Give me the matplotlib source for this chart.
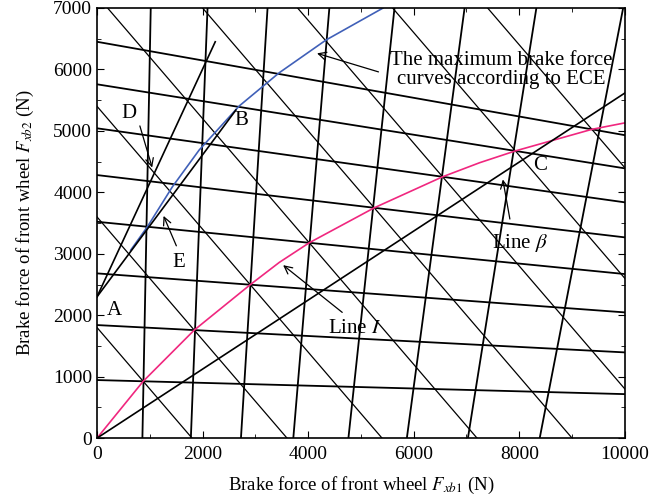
import matplotlib
matplotlib.use("Agg")
import matplotlib.pyplot as plt
import numpy as np

plt.rcParams['font.family'] = ['Liberation Serif', 'DejaVu Serif']
plt.rcParams['mathtext.fontset'] = 'stix'

# near-horizontal lines: y at x=0 and at x=10000
horiz_left = [945, 1840, 2681, 3521, 4281, 5042, 5758, 6450]
horiz_right = [716, 1395, 2046, 2670, 3267, 3837, 4390, 4930]
# near-vertical lines: x at y=0 and at y=7000
vert_bottom = [860, 1778, 2727, 3719, 4763, 5870, 7027, 8387]
vert_top = [1018, 2094, 3231, 4402, 5636, 6964, 8324, 9968]
# -45 degree lines: Fxb1 + Fxb2 = const
diag_sum = [1800, 3600, 5400, 7200, 9000, 10800, 12600, 14400]

# Line I (pink)
i_x = [0, 875, 1842, 2903, 3454, 4021, 5252, 6547, 7249, 7926, 9375, 10000]
i_y = [0, 925, 1758, 2497, 2860, 3179, 3748, 4253, 4482, 4674, 5025, 5130]
# ECE max brake force curve (blue)
ece_x = [639, 955, 1429, 1935, 2694, 3454, 4339, 5420]
ece_y = [3060, 3440, 4091, 4688, 5405, 5947, 6479, 7000]
# line beta
beta_x = [0, 10000]
beta_y = [0, 5616]
# lines from A
a_steep_x = [0, 2240]
a_steep_y = [2300, 6450]
a_b_x = [0, 2632]
a_b_y = [2300, 5340]

fig = plt.figure(figsize=(6.69, 4.99), dpi=100)
ax = fig.add_axes([0.145, 0.122, 0.789, 0.862])

for l, r in zip(horiz_left, horiz_right):
    ax.plot([0, 10000], [l, r], color='black', lw=1.3)
for b, t in zip(vert_bottom, vert_top):
    ax.plot([b, t], [0, 7000], color='black', lw=1.3)
for s in diag_sum:
    ax.plot([0, s], [s, 0], color='black', lw=0.9)

ax.plot(i_x, i_y, color='#f0277f', lw=1.2)
ax.plot(ece_x, ece_y, color='#4060b8', lw=1.2)
ax.plot(beta_x, beta_y, color='black', lw=1.2)
ax.plot(a_steep_x, a_steep_y, color='black', lw=1.2)
ax.plot(a_b_x, a_b_y, color='black', lw=1.2)

fs = 15
arr = dict(arrowstyle='->', color='black', lw=0.9, mutation_scale=14)
ax.text(322, 2084, 'A', fontsize=fs, ha='center', va='center')
ax.text(2732, 5177, 'B', fontsize=fs, ha='center', va='center')
ax.text(8387, 4444, 'C', fontsize=fs, ha='center', va='center')
ax.text(607, 5290, 'D', fontsize=fs, ha='center', va='center')
ax.text(1556, 2865, 'E', fontsize=fs, ha='center', va='center')
ax.annotate('', xy=(1060, 4360), xytext=(797, 5124), arrowprops=arr)
ax.annotate('', xy=(1240, 3658), xytext=(1524, 3088), arrowprops=arr)
ax.text(4877, 1790, 'Line $I$', fontsize=fs, ha='center', va='center')
ax.annotate('', xy=(3485, 2843), xytext=(4687, 2018), arrowprops=arr)
ax.text(8008, 3180, r'Line $\beta$', fontsize=fs, ha='center', va='center')
ax.annotate('', xy=(7679, 4254), xytext=(7831, 3521), arrowprops=arr)
ax.text(7650, 5990, 'The maximum brake force\ncurves according to ECE',
        fontsize=fs, ha='center', va='center', linespacing=1.05)
ax.annotate('', xy=(4118, 6275), xytext=(5383, 5947), arrowprops=arr)

ax.set_xlim(0, 10000)
ax.set_ylim(0, 7000)
ax.set_xticks(np.arange(0, 10001, 2000))
ax.set_yticks(np.arange(0, 7001, 1000))
ax.set_xticks(np.arange(0, 10001, 1000), minor=True)
ax.set_yticks(np.arange(0, 7001, 500), minor=True)
ax.tick_params(which='both', direction='in', top=True, right=True, labelsize=14)
ax.tick_params(axis='x', which='major', pad=6)
ax.tick_params(which='major', length=5)
ax.tick_params(which='minor', length=3)
for sp in ax.spines.values():
    sp.set_linewidth(1.2)

ax.set_xlabel(r'Brake force of front wheel $F_{xb\mathrm{1}}$ (N)', fontsize=13.5, labelpad=8)
ax.set_ylabel(r'Brake force of front wheel $F_{xb2}$ (N)', fontsize=13.5, labelpad=12)

fig.savefig('out.png', dpi=100)
